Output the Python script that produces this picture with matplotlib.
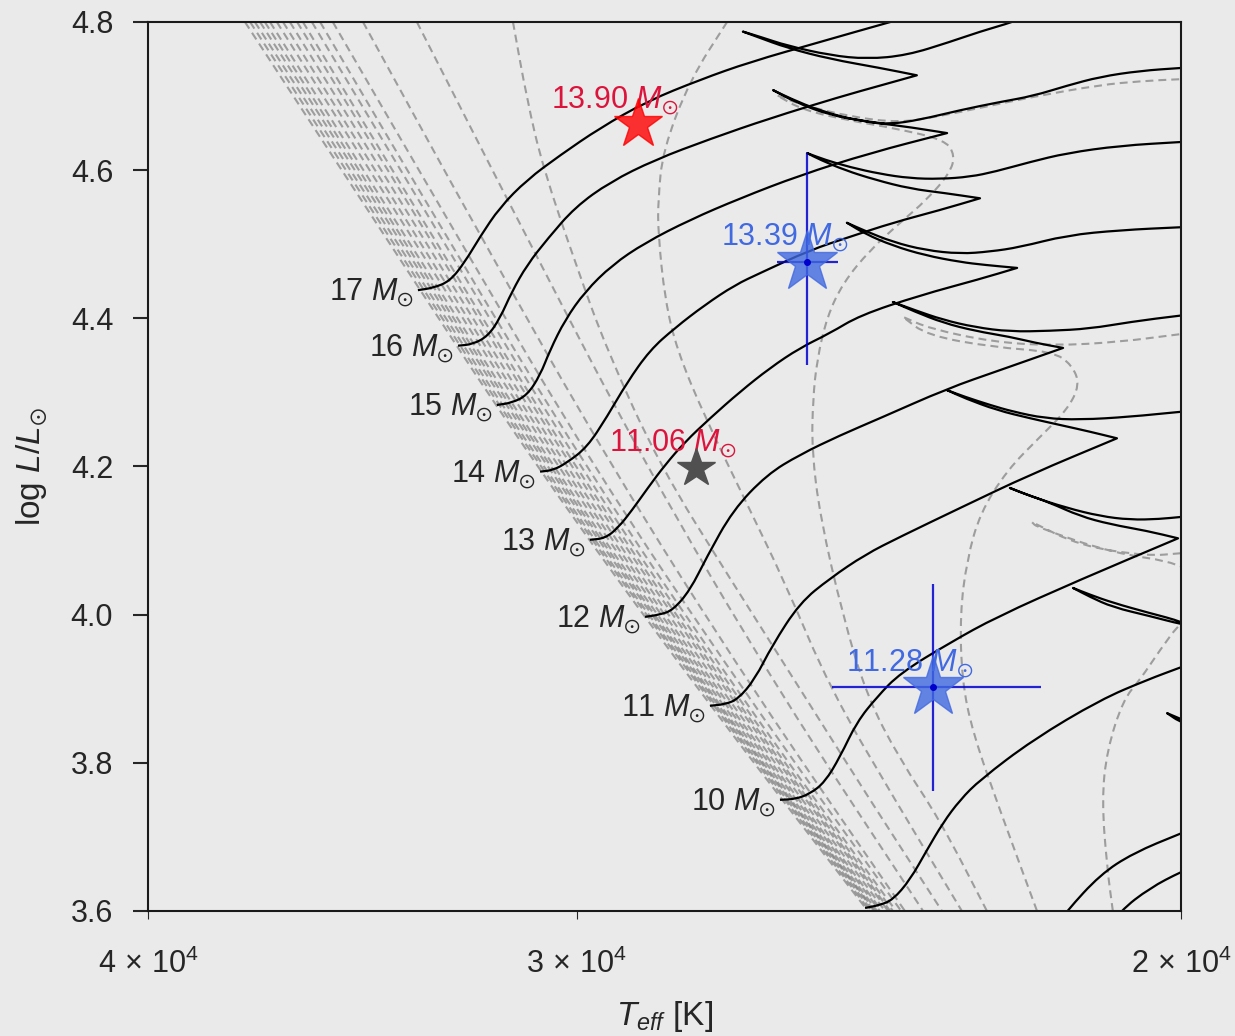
import numpy as np
import matplotlib.pyplot as plt
from matplotlib.ticker import NullLocator
from matplotlib.path import Path
from matplotlib.patches import PathPatch

plt.rcParams['font.family'] = ['Liberation Sans', 'DejaVu Sans']
plt.rcParams['mathtext.fontset'] = 'custom'
plt.rcParams['mathtext.rm'] = 'Liberation Sans'
plt.rcParams['mathtext.it'] = 'Liberation Sans:italic'
plt.rcParams['mathtext.bf'] = 'Liberation Sans:bold'
plt.rcParams['mathtext.fallback'] = 'stixsans'

# --- evolutionary tracks (log Teff, log L): ZAMS -> MS -> hook -> crossing ---
t17_logT = [4.5234, 4.5190, 4.5141, 4.5097, 4.5053, 4.4995, 4.4916, 4.4820, 4.4703, 4.4566,
            4.4412, 4.4266, 4.4062, 4.3858, 4.3684]
t17_logL = [4.438, 4.441, 4.450, 4.476, 4.510, 4.550, 4.587, 4.620, 4.657, 4.693,
            4.722, 4.746, 4.773, 4.800, 4.822]

t16_logT = [4.5117, 4.5074, 4.5030, 4.4995, 4.4960, 4.4916, 4.4855, 4.4776, 4.4674, 4.4543,
            4.4383, 4.4208, 4.4004, 4.3888, 4.3780,
            4.3888, 4.4033, 4.4158, 4.4246, 4.4287,
            4.4237, 4.4158, 4.4033, 4.3925, 4.3809, 4.3684, 4.3596, 4.3500, 4.3407]
t16_logL = [4.363, 4.365, 4.376, 4.400, 4.436, 4.472, 4.508, 4.550, 4.584, 4.614,
            4.642, 4.670, 4.699, 4.714, 4.728,
            4.738, 4.750, 4.765, 4.780, 4.787,
            4.780, 4.768, 4.755, 4.750, 4.755, 4.773, 4.787, 4.800, 4.816]

t15_logT = [4.5004, 4.4960, 4.4916, 4.4878, 4.4849, 4.4805, 4.4747, 4.4668, 4.4572, 4.4441,
            4.4295, 4.4121, 4.3917, 4.3692,
            4.3829, 4.3946, 4.4062, 4.4150, 4.4199,
            4.4135, 4.4033, 4.3917, 4.3858, 4.3771, 4.3654, 4.3538, 4.3442, 4.3343, 4.3246,
            4.3130, 4.3010, 4.2897]
t15_logL = [4.283, 4.286, 4.296, 4.323, 4.357, 4.398, 4.436, 4.472, 4.502, 4.533,
            4.562, 4.593, 4.623, 4.650,
            4.660, 4.666, 4.680, 4.697, 4.708,
            4.692, 4.674, 4.665, 4.662, 4.668, 4.681, 4.692, 4.700, 4.714, 4.726,
            4.734, 4.738, 4.741]

t14_logT = [4.4878, 4.4840, 4.4800, 4.4741, 4.4683, 4.4625, 4.4558, 4.4485, 4.4398, 4.4310,
            4.4237, 4.4092, 4.3975, 4.3850, 4.3713, 4.3596,
            4.3698, 4.3800, 4.3902, 4.3990, 4.4062, 4.4100,
            4.4048, 4.3975, 4.3888, 4.3800, 4.3713, 4.3625, 4.3552, 4.3450, 4.3343, 4.3188,
            4.3010, 4.2897]
t14_logL = [4.193, 4.195, 4.205, 4.226, 4.267, 4.313, 4.357, 4.387, 4.418, 4.445,
            4.461, 4.492, 4.510, 4.529, 4.546, 4.562,
            4.569, 4.575, 4.587, 4.600, 4.614, 4.623,
            4.614, 4.604, 4.595, 4.589, 4.588, 4.591, 4.598, 4.611, 4.623, 4.633,
            4.638, 4.641]

t13_logT = [4.4733, 4.4689, 4.4651, 4.4610, 4.4564, 4.4514, 4.4456, 4.4383, 4.4295, 4.4208,
            4.4121, 4.4033, 4.3946, 4.3771, 4.3596, 4.3488,
            4.3582, 4.3654, 4.3756, 4.3850, 4.3931, 4.3984,
            4.3931, 4.3850, 4.3756, 4.3654, 4.3567, 4.3480, 4.3343, 4.3188, 4.3010, 4.2897]
t13_logL = [4.101, 4.103, 4.117, 4.141, 4.171, 4.202, 4.233, 4.265, 4.301, 4.333,
            4.360, 4.380, 4.404, 4.431, 4.453, 4.468,
            4.472, 4.476, 4.485, 4.498, 4.514, 4.529,
            4.518, 4.503, 4.492, 4.487, 4.490, 4.496, 4.512, 4.519, 4.523, 4.525]

t12_logT = [4.4572, 4.4529, 4.4491, 4.4441, 4.4392, 4.4316, 4.4217, 4.4121, 4.4004, 4.3888,
            4.3692, 4.3538, 4.3354,
            4.3436, 4.3509, 4.3611, 4.3704, 4.3786, 4.3850,
            4.3786, 4.3704, 4.3611, 4.3509, 4.3392, 4.3276, 4.3159, 4.3010, 4.2897]
t12_logL = [3.997, 4.000, 4.006, 4.033, 4.078, 4.141, 4.189, 4.216, 4.242, 4.265,
            4.305, 4.330, 4.360,
            4.367, 4.375, 4.383, 4.394, 4.409, 4.422,
            4.411, 4.398, 4.388, 4.382, 4.383, 4.386, 4.395, 4.404, 4.409]

t11_logT = [4.4383, 4.4339, 4.4301, 4.4252, 4.4202, 4.4121, 4.4033, 4.3931, 4.3829, 4.3654,
            4.3450, 4.3197,
            4.3276, 4.3363, 4.3450, 4.3547, 4.3640, 4.3692,
            4.3640, 4.3567, 4.3500, 4.3407, 4.3305, 4.3159, 4.3010, 4.2897]
t11_logL = [3.877, 3.879, 3.886, 3.913, 3.958, 4.016, 4.049, 4.081, 4.105, 4.144,
            4.189, 4.238,
            4.247, 4.256, 4.265, 4.276, 4.292, 4.303,
            4.294, 4.283, 4.274, 4.265, 4.263, 4.267, 4.274, 4.278]

t10_logT = [4.4179, 4.4135, 4.4092, 4.4048, 4.4004, 4.3955, 4.3896, 4.3829, 4.3684, 4.3547,
            4.3305, 4.3019,
            4.3109, 4.3217, 4.3305, 4.3392, 4.3465, 4.3509,
            4.3450, 4.3343, 4.3246, 4.3159, 4.3072, 4.3010, 4.2897]
t10_logL = [3.750, 3.751, 3.758, 3.774, 3.808, 3.855, 3.889, 3.921, 3.962, 3.997,
            4.047, 4.103,
            4.113, 4.122, 4.133, 4.151, 4.163, 4.171,
            4.160, 4.144, 4.133, 4.128, 4.129, 4.132, 4.136]

t9_logT = [4.3931, 4.3888, 4.3850, 4.3800, 4.3751, 4.3704, 4.3654, 4.3596, 4.3442, 4.3246,
           4.3109, 4.3010, 4.2838,
           4.3010, 4.3101, 4.3209, 4.3276, 4.3325,
           4.3276, 4.3209, 4.3101, 4.3010, 4.2897]
t9_logL = [3.604, 3.608, 3.615, 3.642, 3.682, 3.719, 3.750, 3.777, 3.831, 3.885,
           3.912, 3.929, 3.959,
           3.991, 4.002, 4.016, 4.027, 4.036,
           4.024, 4.010, 3.998, 3.987, 3.977]

t8_logT = [4.3421, 4.3343, 4.3246, 4.3150, 4.3010, 4.2897, 4.2780,
           4.2955, 4.3010, 4.3051, 4.3010, 4.2897]
t8_logL = [3.554, 3.600, 3.649, 3.678, 3.705, 3.725, 3.750,
           3.848, 3.859, 3.867, 3.854, 3.838]

t7_logT = [4.3261, 4.3188, 4.3101, 4.3010, 4.2897]
t7_logL = [3.554, 3.600, 3.631, 3.653, 3.676]

track_masses = [17, 16, 15, 14, 13, 12, 11, 10]
# index of the MS tip and of the hook point along each track (sharp corners)
track_corners = [[], [14, 19], [13, 18], [15, 21], [15, 21], [12, 18], [11, 17], [11, 17],
                 [12, 17], [6, 9], []]

# --- isochrones ---
# young isochrones, log Teff read at fixed log L levels
iso_young_logL = [4.8, 4.5, 4.2, 3.9, 3.6]
iso_young_logT = [
    [4.5738, 4.5315, 4.4890, 4.4421, 4.3923],
    [4.5723, 4.5304, 4.4881, 4.4412, 4.3917],
    [4.5709, 4.5292, 4.4873, 4.4406, 4.3911],
    [4.5694, 4.5280, 4.4861, 4.4398, 4.3905],
    [4.5680, 4.5269, 4.4852, 4.4392, 4.3902],
    [4.5665, 4.5257, 4.4843, 4.4383, 4.3896],
    [4.5645, 4.5240, 4.4829, 4.4374, 4.3888],
    [4.5627, 4.5225, 4.4817, 4.4365, 4.3882],
    [4.5607, 4.5208, 4.4805, 4.4354, 4.3873],
    [4.5586, 4.5190, 4.4791, 4.4342, 4.3864],
    [4.5569, 4.5178, 4.4779, 4.4333, 4.3858],
    [4.5543, 4.5155, 4.4765, 4.4322, 4.3850],
    [4.5519, 4.5138, 4.4747, 4.4310, 4.3841],
    [4.5482, 4.5106, 4.4724, 4.4290, 4.3826],
]
iso_a_logT = [4.5394, 4.5039, 4.4671, 4.4261, 4.3815]
iso_b_logT = [4.5237, 4.4907, 4.4569, 4.4188, 4.3762]

iso_c_logT = [4.4957, 4.4916, 4.4870, 4.4771, 4.4683, 4.4529, 4.4325, 4.4121, 4.3917, 4.3707]
iso_c_logL = [4.800, 4.695, 4.604, 4.469, 4.357, 4.201, 4.049, 3.900, 3.750, 3.600]

iso_d_logT = [4.4333, 4.4441, 4.4520, 4.4534, 4.4534, 4.4514, 4.4479, 4.4398, 4.4281, 4.4164,
              4.4033, 4.3844, 4.3649]
iso_d_logL = [4.800, 4.722, 4.627, 4.560, 4.515, 4.425, 4.357, 4.267, 4.155, 4.043,
              3.900, 3.750, 3.600]

iso_e_logT = [4.3576, 4.3713, 4.3829, 4.3925, 4.3995, 4.4062, 4.4086, 4.4083, 4.4071, 4.4042,
              4.3995, 4.3917, 4.3829, 4.3751, 4.3684, 4.3669, 4.3698, 4.3850, 4.3966, 4.4112,
              4.4188, 4.4121, 4.3975, 4.3829, 4.3713, 4.3596, 4.3442, 4.3246, 4.3130, 4.3010,
              4.2897]
iso_e_logL = [3.600, 3.723, 3.804, 3.889, 3.997, 4.132, 4.222, 4.290, 4.344, 4.402,
              4.448, 4.492, 4.529, 4.560, 4.596, 4.620, 4.641, 4.657, 4.666, 4.681,
              4.701, 4.689, 4.672, 4.664, 4.673, 4.684, 4.699, 4.715, 4.720, 4.723,
              4.724]

iso_f_logT = [4.3430, 4.3538, 4.3617, 4.3649, 4.3654, 4.3634, 4.3596, 4.3517, 4.3421, 4.3343,
              4.3305, 4.3328, 4.3383, 4.3558, 4.3751, 4.3821, 4.3742, 4.3558, 4.3383, 4.3188,
              4.3010, 4.2897]
iso_f_logL = [3.600, 3.736, 3.840, 3.912, 4.002, 4.074, 4.137, 4.195, 4.240, 4.276,
              4.310, 4.337, 4.355, 4.361, 4.377, 4.402, 4.386, 4.368, 4.363, 4.368,
              4.379, 4.384]

iso_g_logT = [4.3209, 4.3226, 4.3241, 4.3226, 4.3179, 4.3130, 4.3072, 4.3010, 4.2897, 4.3010,
              4.3209, 4.3430, 4.3445, 4.3305, 4.3109, 4.3010, 4.2897]
iso_g_logL = [3.600, 3.659, 3.750, 3.817, 3.885, 3.912, 3.952, 3.991, 4.033, 4.070,
              4.083, 4.118, 4.125, 4.093, 4.079, 4.083, 4.087]

# --- observed stars ---
red_teff, red_logL, red_label = 28800, 4.662, '13.90'
gray_teff, gray_logL, gray_label = 27700, 4.198, '11.06'
blue_teff = [25700, 23620]
blue_logL = [4.476, 3.902]
blue_xerr = [520, 1650]
blue_yerr_lo = [0.139, 0.140]
blue_yerr_hi = [0.147, 0.140]
blue_labels = ['13.39', '11.28']


def smooth_curve(ax, logT, logL, corners=(), **kw):
    """Draw the read points as a quadratic-Bezier curve (in log Teff space),
    keeping the listed indices as sharp corners."""
    lt = np.asarray(logT, float)
    ll = np.asarray(logL, float)
    cuts = [0] + list(corners) + [len(lt) - 1]
    verts, codes = [], []
    for a, b in zip(cuts[:-1], cuts[1:]):
        p = np.column_stack([lt[a:b + 1], ll[a:b + 1]])
        verts.append(p[0])
        codes.append(Path.MOVETO if a == 0 else Path.LINETO)
        if len(p) > 2:
            verts.append((p[0] + p[1]) / 2)
            codes.append(Path.LINETO)
            for i in range(1, len(p) - 1):
                verts += [p[i], (p[i] + p[i + 1]) / 2]
                codes += [Path.CURVE3, Path.CURVE3]
        verts.append(p[-1])
        codes.append(Path.LINETO)
    verts = np.array(verts)
    verts[:, 0] = 10 ** verts[:, 0]
    ax.add_patch(PathPatch(Path(verts, codes), fill=False, transform=ax.transData, **kw))


bg = '#eaeaea'
txt = '#262626'
fs = 22
fig = plt.figure(figsize=(12.35, 10.36), dpi=100, facecolor=bg)
ax = fig.add_axes([0.1198, 0.1207, 0.8365, 0.8581])
ax.set_facecolor(bg)
ax.set_xscale('log')
ax.set_xlim(4e4, 2e4)
ax.set_ylim(3.6, 4.8)

iso_kw = dict(linestyle=(0, (3.8, 2.4)), edgecolor='#7f7f7f', alpha=0.72, lw=1.5, zorder=1,
              joinstyle='round')
for lt in iso_young_logT:
    smooth_curve(ax, lt, iso_young_logL, **iso_kw)
smooth_curve(ax, iso_a_logT, iso_young_logL, **iso_kw)
smooth_curve(ax, iso_b_logT, iso_young_logL, **iso_kw)
smooth_curve(ax, iso_c_logT, iso_c_logL, **iso_kw)
smooth_curve(ax, iso_d_logT, iso_d_logL, **iso_kw)
smooth_curve(ax, iso_e_logT, iso_e_logL, corners=[20], **iso_kw)
smooth_curve(ax, iso_f_logT, iso_f_logL, corners=[15], **iso_kw)
smooth_curve(ax, iso_g_logT, iso_g_logL, corners=[12], **iso_kw)

tracks = [(t17_logT, t17_logL), (t16_logT, t16_logL), (t15_logT, t15_logL),
          (t14_logT, t14_logL), (t13_logT, t13_logL), (t12_logT, t12_logL),
          (t11_logT, t11_logL), (t10_logT, t10_logL), (t9_logT, t9_logL),
          (t8_logT, t8_logL), (t7_logT, t7_logL)]
for (lt, ll), cc in zip(tracks, track_corners):
    smooth_curve(ax, lt, ll, corners=cc, edgecolor='black', lw=1.6, zorder=2,
                 joinstyle='round')

# ZAMS mass labels
for m, (lt, ll) in zip(track_masses, tracks):
    ax.annotate(f'{m} $M_{{\\odot}}$', xy=(10 ** lt[0], ll[0]), xytext=(-4, -2),
                textcoords='offset pixels', ha='right', va='center', fontsize=fs, color=txt)

# stars
ax.plot(red_teff, red_logL, marker='*', ms=37, color='red', alpha=0.8, ls='none', zorder=4)
ax.annotate(f'{red_label} $M_{{\\odot}}$', xy=(red_teff, red_logL), xytext=(-23, 17),
            textcoords='offset pixels', ha='center', va='baseline', fontsize=fs, color='crimson')
ax.plot(gray_teff, gray_logL, marker='*', ms=29, color='#505050', ls='none', zorder=4)
ax.annotate(f'{gray_label} $M_{{\\odot}}$', xy=(gray_teff, gray_logL), xytext=(-23, 17),
            textcoords='offset pixels', ha='center', va='baseline', fontsize=fs, color='crimson')

ax.errorbar(blue_teff, blue_logL, xerr=blue_xerr, yerr=[blue_yerr_lo, blue_yerr_hi],
            fmt='none', ecolor='mediumblue', elinewidth=1.6, alpha=0.85, zorder=3)
ax.plot(blue_teff, blue_logL, marker='*', ms=46, color='royalblue', alpha=0.8, ls='none', zorder=4)
ax.plot(blue_teff, blue_logL, marker='o', ms=4, color='mediumblue', ls='none', zorder=5)
for t, l, lab in zip(blue_teff, blue_logL, blue_labels):
    ax.annotate(f'{lab} $M_{{\\odot}}$', xy=(t, l), xytext=(-23, 17),
                textcoords='offset pixels', ha='center', va='baseline', fontsize=fs,
                color='royalblue')

ax.set_xticks([4e4, 3e4, 2e4])
ax.set_xticklabels([r'$4\,\times\,10^{4}$', r'$3\,\times\,10^{4}$', r'$2\,\times\,10^{4}$'])
ax.xaxis.set_minor_locator(NullLocator())
ax.set_yticks([3.6, 3.8, 4.0, 4.2, 4.4, 4.6, 4.8])
ax.tick_params(axis='x', length=6, width=0.8, pad=21, labelsize=fs, colors=txt)
ax.tick_params(axis='y', length=11, width=1.5, pad=14, labelsize=fs, colors=txt)
for s in ax.spines.values():
    s.set_linewidth(1.5)
    s.set_color('#1a1a1a')

ax.set_xlabel(r'$T_{eff}$ [K]', fontsize=24, color=txt, labelpad=14)
ax.set_ylabel(r'log $L/L_{\odot}$', fontsize=24, color=txt, labelpad=15)

fig.savefig('out.png', dpi=100, facecolor=bg)
